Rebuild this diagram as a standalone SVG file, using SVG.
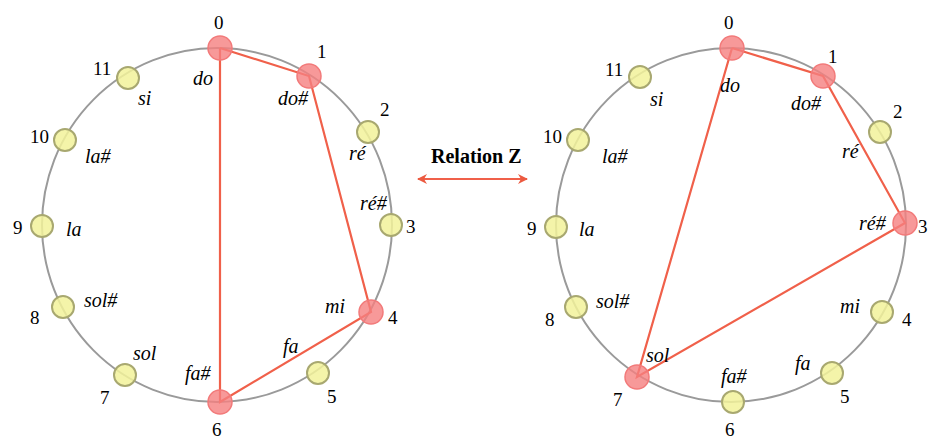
<svg xmlns="http://www.w3.org/2000/svg" width="928" height="440" viewBox="0 0 928 440">
<style>
.ring{fill:none;stroke:#9a9a9a;stroke-width:2}
.edge{stroke:#f0604a;stroke-width:2.2;fill:none}
.y{fill:#f2f29a;fill-opacity:0.85;stroke:#a8a870;stroke-width:2}
.r{fill:#f58080;fill-opacity:0.8;stroke:#f27a7a;stroke-width:1.5}
</style>
<defs>
<marker id="ah" viewBox="0 0 10 10" refX="9" refY="5" markerWidth="10" markerHeight="10" markerUnits="userSpaceOnUse" orient="auto-start-reverse">
<path d="M0,0 L10,5 L0,10 L3,5 Z" fill="#ec5a40"/>
</marker>
</defs>
<rect width="928" height="440" fill="#ffffff"/>
<ellipse class="ring" cx="217" cy="225" rx="175" ry="177"/>
<ellipse class="ring" cx="731" cy="225" rx="175" ry="177"/>
<g id="connectors">
<polyline class="edge" points="220,48 309,76 371,312 220,402 220,48"/>
<polyline class="edge" points="732,48 823,76 905,223 637,377 732,48"/>
<line class="edge" x1="418" y1="179" x2="527" y2="179" marker-start="url(#ah)" marker-end="url(#ah)"/>
</g>
<text x="431" y="163" font-family="Liberation Serif" font-size="20" font-weight="bold">Relation Z</text>
<g id="L0"><circle class="r" cx="220" cy="48" r="12"/><text x="214" y="29" font-family="Liberation Serif" font-size="19">0</text><text x="193" y="85" font-family="Liberation Serif" font-size="20" font-style="italic">do</text></g>
<g id="L1"><circle class="r" cx="309" cy="76" r="12"/><text x="317" y="58" font-family="Liberation Serif" font-size="19">1</text><text x="278" y="105" font-family="Liberation Serif" font-size="20" font-style="italic">do#</text></g>
<g id="L2"><circle class="y" cx="368" cy="132" r="11"/><text x="380" y="116" font-family="Liberation Serif" font-size="19">2</text><text x="349" y="160" font-family="Liberation Serif" font-size="20" font-style="italic">ré</text></g>
<g id="L3"><circle class="y" cx="391" cy="225" r="11"/><text x="406" y="233" font-family="Liberation Serif" font-size="19">3</text><text x="360" y="210" font-family="Liberation Serif" font-size="20" font-style="italic">ré#</text></g>
<g id="L4"><circle class="r" cx="371" cy="312" r="12"/><text x="388" y="324" font-family="Liberation Serif" font-size="19">4</text><text x="325" y="313" font-family="Liberation Serif" font-size="20" font-style="italic">mi</text></g>
<g id="L5"><circle class="y" cx="318" cy="373" r="11"/><text x="327" y="403" font-family="Liberation Serif" font-size="19">5</text><text x="283" y="353" font-family="Liberation Serif" font-size="20" font-style="italic">fa</text></g>
<g id="L6"><circle class="r" cx="220" cy="402" r="12"/><text x="212" y="436" font-family="Liberation Serif" font-size="19">6</text><text x="185" y="380" font-family="Liberation Serif" font-size="20" font-style="italic">fa#</text></g>
<g id="L7"><circle class="y" cx="125" cy="375" r="11"/><text x="100" y="404" font-family="Liberation Serif" font-size="19">7</text><text x="133" y="360" font-family="Liberation Serif" font-size="20" font-style="italic">sol</text></g>
<g id="L8"><circle class="y" cx="63" cy="307" r="11"/><text x="30" y="324" font-family="Liberation Serif" font-size="19">8</text><text x="84" y="307" font-family="Liberation Serif" font-size="20" font-style="italic">sol#</text></g>
<g id="L9"><circle class="y" cx="42" cy="226" r="11"/><text x="13" y="234" font-family="Liberation Serif" font-size="19">9</text><text x="66" y="236" font-family="Liberation Serif" font-size="20" font-style="italic">la</text></g>
<g id="L10"><circle class="y" cx="65" cy="140" r="11"/><text x="30" y="143" font-family="Liberation Serif" font-size="19">10</text><text x="85" y="163" font-family="Liberation Serif" font-size="20" font-style="italic">la#</text></g>
<g id="L11"><circle class="y" cx="128" cy="78" r="11"/><text x="93" y="75" font-family="Liberation Serif" font-size="19">11</text><text x="138" y="105" font-family="Liberation Serif" font-size="20" font-style="italic">si</text></g>
<g id="R0"><circle class="r" cx="732" cy="48" r="12"/><text x="724" y="29" font-family="Liberation Serif" font-size="19">0</text><text x="720" y="92" font-family="Liberation Serif" font-size="20" font-style="italic">do</text></g>
<g id="R1"><circle class="r" cx="823" cy="76" r="12"/><text x="828" y="63" font-family="Liberation Serif" font-size="19">1</text><text x="791" y="110" font-family="Liberation Serif" font-size="20" font-style="italic">do#</text></g>
<g id="R2"><circle class="y" cx="880" cy="132" r="11"/><text x="893" y="118" font-family="Liberation Serif" font-size="19">2</text><text x="842" y="158" font-family="Liberation Serif" font-size="20" font-style="italic">ré</text></g>
<g id="R3"><circle class="r" cx="905" cy="223" r="12"/><text x="918" y="233" font-family="Liberation Serif" font-size="19">3</text><text x="859" y="230" font-family="Liberation Serif" font-size="20" font-style="italic">ré#</text></g>
<g id="R4"><circle class="y" cx="882" cy="312" r="11"/><text x="902" y="326" font-family="Liberation Serif" font-size="19">4</text><text x="840" y="313" font-family="Liberation Serif" font-size="20" font-style="italic">mi</text></g>
<g id="R5"><circle class="y" cx="832" cy="373" r="11"/><text x="840" y="403" font-family="Liberation Serif" font-size="19">5</text><text x="795" y="370" font-family="Liberation Serif" font-size="20" font-style="italic">fa</text></g>
<g id="R6"><circle class="y" cx="733" cy="402" r="11"/><text x="725" y="436" font-family="Liberation Serif" font-size="19">6</text><text x="721" y="383" font-family="Liberation Serif" font-size="20" font-style="italic">fa#</text></g>
<g id="R7"><circle class="r" cx="637" cy="377" r="12"/><text x="613" y="406" font-family="Liberation Serif" font-size="19">7</text><text x="646" y="362" font-family="Liberation Serif" font-size="20" font-style="italic">sol</text></g>
<g id="R8"><circle class="y" cx="576" cy="307" r="11"/><text x="545" y="326" font-family="Liberation Serif" font-size="19">8</text><text x="596" y="308" font-family="Liberation Serif" font-size="20" font-style="italic">sol#</text></g>
<g id="R9"><circle class="y" cx="556" cy="227" r="11"/><text x="527" y="235" font-family="Liberation Serif" font-size="19">9</text><text x="579" y="236" font-family="Liberation Serif" font-size="20" font-style="italic">la</text></g>
<g id="R10"><circle class="y" cx="578" cy="140" r="11"/><text x="543" y="143" font-family="Liberation Serif" font-size="19">10</text><text x="602" y="163" font-family="Liberation Serif" font-size="20" font-style="italic">la#</text></g>
<g id="R11"><circle class="y" cx="640" cy="77" r="11"/><text x="605" y="76" font-family="Liberation Serif" font-size="19">11</text><text x="650" y="106" font-family="Liberation Serif" font-size="20" font-style="italic">si</text></g>
</svg>
